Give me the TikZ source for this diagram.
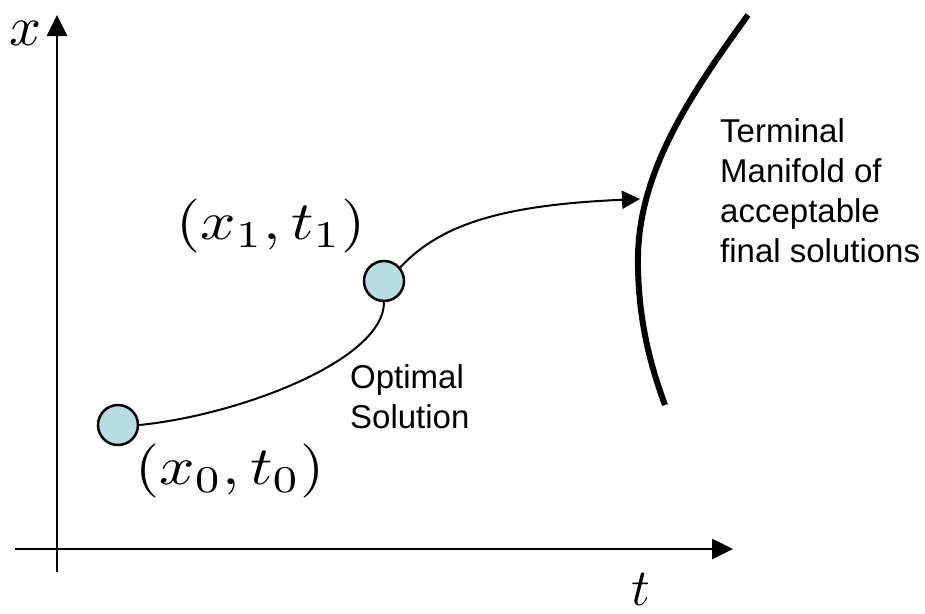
\documentclass[tikz,border=0pt]{standalone}
\usepackage{fontspec}
\usepackage{graphicx}
\newfontfamily\arialf{Liberation Sans}
\usetikzlibrary{arrows.meta}
\definecolor{ballfill}{RGB}{182,222,224}
\tikzset{
  axisline/.style={line width=2.7pt},
  pathline/.style={line width=2pt},
  ball/.style={circle, draw=black, line width=2.5pt, fill=ballfill, minimum size=40pt, inner sep=0pt},
  mathlab/.style={inner sep=0pt, anchor=base},
  plainlab/.style={inner sep=0pt, anchor=north west, align=left, font=\arialf\fontsize{33}{40}\selectfont},
}
\begin{document}
\begin{tikzpicture}[x=1pt,y=-1pt]
\useasboundingbox (0,0) rectangle (925,613);
% axes
\coordinate (ybot) at (57,572);
\coordinate (ytop) at (57,15);
\coordinate (xleft) at (15,549);
\coordinate (xright) at (733,549);
\draw[axisline,-{Triangle[length=21pt,width=20pt]}] (ybot) -- (ytop);
\draw[axisline,-{Triangle[length=21pt,width=20pt]}] (xleft) -- (xright);
\node[mathlab] (xl) at (26,45) {\scalebox{5.6}{$x$}};
\node[mathlab] (tl) at (641,605) {\scalebox{5.2}{$t$}};
% manifold
\coordinate (mtop) at (748,15);
\coordinate (mmid) at (638,255);
\coordinate (mbot) at (665,405);
\coordinate (mhit) at (640,199);
\draw[line width=6pt] (mtop) .. controls (690,95) and (640,170) .. (mmid)
   .. controls (637,320) and (652,370) .. (mbot);
% points
\node[ball] (c0) at (118,425) {};
\node[ball] (c1) at (384,281) {};
\draw[pathline] (c0.east) .. controls (240,415) and (384,360) .. (c1.south);
\draw[pathline,-{Triangle[length=18pt,width=18pt]}] (c1.40) .. controls (440,225) and (500,205) .. (mhit);
% labels
\node[mathlab] (l1) at (271,239) {\scalebox{6.2}[5.4]{$(x_1,t_1)$}};
\node[mathlab] (l0) at (230,484) {\scalebox{6.2}[5.4]{$(x_0,t_0)$}};
\node[plainlab] (opt) at (350,364) {\fontsize{33}{38}\selectfont Optimal\\Solution};
\node[plainlab] (term) at (720,118) {Terminal\\Manifold of\\acceptable\\final solutions};
\end{tikzpicture}
\end{document}
